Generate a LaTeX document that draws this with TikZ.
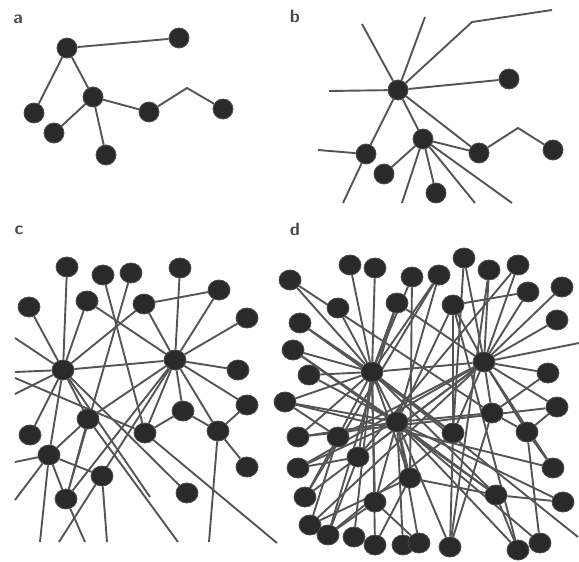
\documentclass[tikz,border=0pt]{standalone}
\usetikzlibrary{shapes.geometric,backgrounds}
\definecolor{edgec}{HTML}{555555}
\definecolor{dotc}{HTML}{2A2A2A}
\definecolor{labc}{HTML}{4A4A4A}
\begin{document}
\begin{tikzpicture}[x=1pt,y=-1pt,
  dot/.style={ellipse,fill=dotc,draw=black!70,line width=0.8pt,minimum width=22pt,minimum height=20pt,inner sep=0pt},
  sdot/.style={dot,minimum width=20pt,minimum height=20pt},
  lnk/.style={draw=edgec,line width=1.9pt},
  lab/.style={font=\fontsize{18}{18}\selectfont\sffamily\bfseries,text=labc,inner sep=0pt}]
\useasboundingbox (0,0) rectangle (579,562);
% labels
\node[lab] (la) at (18,19) {a};
\node[lab] (lb) at (295,16) {b};
\node[lab] (lc) at (19,230) {c};
\node[lab] (ld) at (295,229) {d};
% ---------- panel a
\node[sdot] (a1) at (67,48) {};
\node[sdot] (a2) at (179,38) {};
\node[sdot] (a3) at (34,113) {};
\node[sdot] (a4) at (93,97) {};
\node[sdot] (a5) at (54,133) {};
\node[sdot] (a6) at (106,155) {};
\node[sdot] (a7) at (149,112) {};
\node[sdot] (a8) at (223,109) {};
\coordinate (abend) at (187,88);
% ---------- panel b
\node[sdot] (b1) at (398,90) {};
\node[sdot] (b2) at (509,79) {};
\node[sdot] (b3) at (366,154) {};
\node[sdot] (b4) at (423,139) {};
\node[sdot] (b5) at (384,174) {};
\node[sdot] (b6) at (436,193) {};
\node[sdot] (b7) at (479,153) {};
\node[sdot] (b8) at (553,150) {};
\coordinate (bbend) at (518,128);
\coordinate (bt1) at (362,24);
\coordinate (bt2) at (425,17);
\coordinate (bt3) at (472,22);
\coordinate (bt4) at (552,10);
\coordinate (bl1) at (329,91);
\coordinate (bl2) at (318,150);
\coordinate (bb1) at (343,203);
\coordinate (bb2) at (402,203);
\coordinate (bb3) at (475,203);
\coordinate (bb4) at (512,203);
% ---------- panel c
\node[dot] (c1) at (67,267) {};
\node[dot] (c2) at (103,275) {};
\node[dot] (c3) at (131,273) {};
\node[dot] (c4) at (180,268) {};
\node[dot] (c5) at (29,307) {};
\node[dot] (c6) at (87,301) {};
\node[dot] (c7) at (144,304) {};
\node[dot] (c8) at (219,290) {};
\node[dot] (c9) at (247,318) {};
\node[dot] (ch1) at (63,370) {};
\node[dot] (ch2) at (175,360) {};
\node[dot] (c10) at (238,370) {};
\node[dot] (c11) at (247,405) {};
\node[dot] (c12) at (183,411) {};
\node[dot] (c13) at (88,419) {};
\node[dot] (c14) at (145,433) {};
\node[dot] (c15) at (218,431) {};
\node[dot] (c16) at (30,435) {};
\node[dot] (c17) at (49,455) {};
\node[dot] (c18) at (247,467) {};
\node[dot] (c19) at (102,476) {};
\node[dot] (c20) at (187,493) {};
\node[dot] (c21) at (66,499) {};
\coordinate (cl1) at (15,338);
\coordinate (cl2) at (15,372);
\coordinate (cl3) at (15,394);
\coordinate (cl4) at (15,378);
\coordinate (cl5) at (15,462);
\coordinate (cl6) at (15,500);
\coordinate (cb1) at (40,542);
\coordinate (cb2) at (59,542);
\coordinate (cb3) at (85,542);
\coordinate (cb4) at (107,542);
\coordinate (cb5) at (178,542);
\coordinate (cb6) at (209,542);
\coordinate (cb7) at (277,543);
\coordinate (cf1) at (150,497);
% ---------- panel d
\node[dot] (d1) at (290,280) {};
\node[dot] (d2) at (350,265) {};
\node[dot] (d3) at (375,268) {};
\node[dot] (d4) at (412,277) {};
\node[dot] (d5) at (439,275) {};
\node[dot] (d6) at (464,258) {};
\node[dot] (d7) at (489,270) {};
\node[dot] (d8) at (518,265) {};
\node[dot] (d9) at (528,292) {};
\node[dot] (d10) at (562,287) {};
\node[dot] (d11) at (338,308) {};
\node[dot] (d12) at (397,303) {};
\node[dot] (d13) at (453,305) {};
\node[dot] (d14) at (557,320) {};
\node[dot] (d15) at (300,323) {};
\node[dot] (d16) at (293,350) {};
\node[dot] (dh1) at (372,372) {};
\node[dot] (dh2) at (484,362) {};
\node[dot] (d17) at (309,375) {};
\node[dot] (d18) at (548,373) {};
\node[dot] (d19) at (285,402) {};
\node[dot] (d20) at (492,413) {};
\node[dot] (d21) at (557,407) {};
\node[dot] (dh3) at (397,422) {};
\node[dot] (d22) at (298,437) {};
\node[dot] (d23) at (338,437) {};
\node[dot] (d24) at (453,433) {};
\node[dot] (d25) at (527,432) {};
\node[dot] (d26) at (358,457) {};
\node[dot] (d27) at (298,468) {};
\node[dot] (d28) at (553,468) {};
\node[dot] (d29) at (410,478) {};
\node[dot] (d30) at (305,497) {};
\node[dot] (d31) at (375,502) {};
\node[dot] (d32) at (496,495) {};
\node[dot] (d33) at (563,502) {};
\node[dot] (d34) at (310,525) {};
\node[dot] (d35) at (328,535) {};
\node[dot] (d36) at (354,537) {};
\node[dot] (d37) at (375,545) {};
\node[dot] (d38) at (403,545) {};
\node[dot] (d39) at (419,543) {};
\node[dot] (d40) at (450,547) {};
\node[dot] (d41) at (518,550) {};
\node[dot] (d42) at (540,543) {};
\coordinate (dr1) at (579,343);
\coordinate (df1) at (578,537);
\begin{scope}[on background layer]
% a
\draw[lnk] (a1)--(a2) (a1)--(a3) (a1)--(a4) (a4)--(a5) (a4)--(a6) (a4)--(a7);
\draw[lnk] (a7)--(abend)--(a8);
% b
\draw[lnk] (b1)--(bt1) (b1)--(bt2) (b1)--(bl1) (b1)--(b2) (b1)--(b7) (b1)--(b4) (b1)--(b3);
\draw[lnk] (b1)--(bt3)--(bt4);
\draw[lnk] (b3)--(bl2) (b3)--(bb1) (b4)--(b5) (b4)--(b6) (b4)--(b7) (b4)--(bb2) (b4)--(bb3) (b4)--(bb4);
\draw[lnk] (b7)--(bbend)--(b8);
% c
\foreach \t in {c1,c5,c6,c7,ch2,cl1,cl2,cl3,c17,c13,c20,cf1,c16}
  \draw[lnk] (ch1)--(\t);
\foreach \t in {c4,c7,c8,c9,c10,c11,c12,c15,c13,c21,c14,c6}
  \draw[lnk] (ch2)--(\t);
\draw[lnk] (ch2)--(cb2);
\draw[lnk] (c17)--(cb1) (c17)--(c13) (c17)--(c19) (c17)--(cl5) (c17)--(cl6) (c21)--(c17);
\draw[lnk] (c21)--(cb3) (c21)--(c13) (c2)--(c14) (c3)--(c21) (c7)--(c8);
\draw[lnk] (c12)--(c14) (c12)--(c15) (c15)--(c11) (c15)--(c18) (c15)--(cb6);
\draw[lnk] (c19)--(cb4) (c14)--(cb7) (c13)--(cb5) (cl4)--(c14);
% d
\foreach \t in {d1,d2,d3,d11,d12,d15,d16,d17,d19,d4,d5,d22,d23,dh2,dh3,d26,d31,d36,d37,d24,d32,d29}
  \draw[lnk] (dh1)--(\t);
\draw[lnk] (dh1)--(df1);
\foreach \t in {d6,d7,d8,d9,d10,d14,d18,d21,d20,d25,d28,d13,d24,d23,d26,d30,d27,d34,d12}
  \draw[lnk] (dh2)--(\t);
\draw[lnk] (dh2)--(dr1);
\foreach \t in {d16,d17,d19,d22,d27,d29,d31,d38,d39,d40,d41,d42,d32,d33,d20,d13,d5}
  \draw[lnk] (dh3)--(\t);
\draw[lnk] (d20)--(d18) (d20)--(d25) (d20)--(d40) (d25)--(d21) (d25)--(d28) (d25)--(d42);
\draw[lnk] (d32)--(d33) (d32)--(d41) (d32)--(d29) (d24)--(d13) (d24)--(d40) (d24)--(d35);
\draw[lnk] (d23)--(d30) (d23)--(d34) (d23)--(d19) (d26)--(d35) (d26)--(d27);
\draw[lnk] (d29)--(d37) (d29)--(d34) (d31)--(d35) (d31)--(d39);
\draw[lnk] (d4)--(d29) (d5)--(d30) (d7)--(d40) (d8)--(d26) (d13)--(d41) (d12)--(d35) (d13)--(d9) (d6)--(d24);
\draw[lnk] (d15)--(d24) (d16)--(d32) (d19)--(d28) (d1)--(d20) (d22)--(d21);
\end{scope}
\end{tikzpicture}
\end{document}
